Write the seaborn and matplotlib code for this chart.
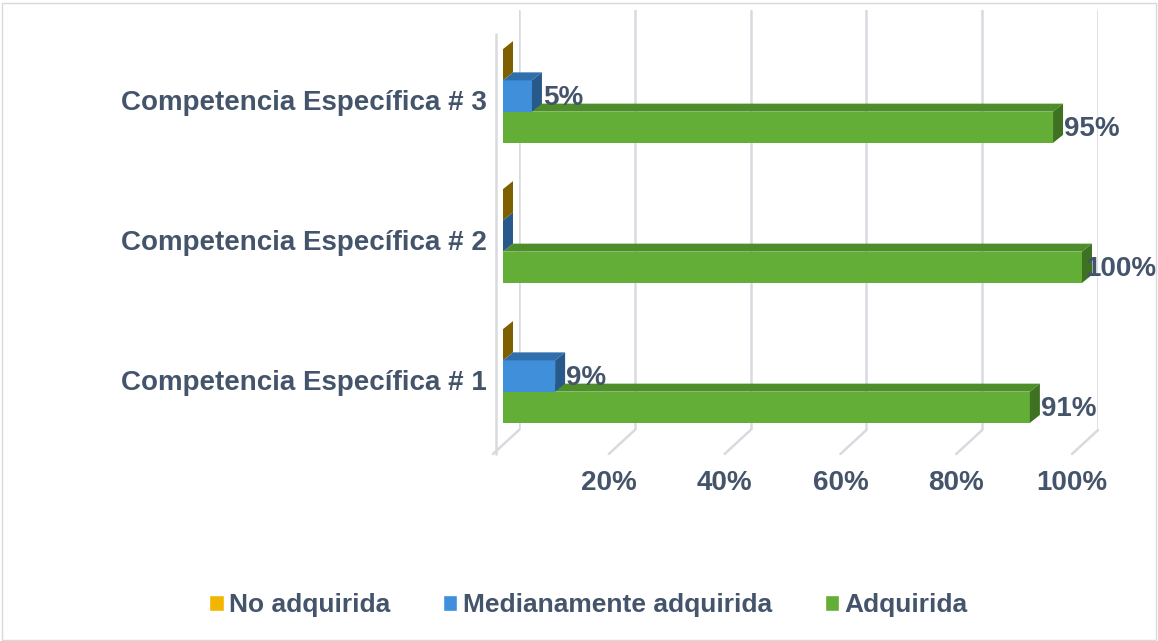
import matplotlib
matplotlib.use("Agg")
import matplotlib.pyplot as plt
import matplotlib.transforms as mtransforms
from matplotlib.lines import Line2D
from matplotlib.patches import Patch, Polygon, Rectangle
import pandas as pd
import seaborn as sns

# === DATA ===
competencias = ["Competencia Específica # 3", "Competencia Específica # 2", "Competencia Específica # 1"]
niveles = ["No adquirida", "Medianamente adquirida", "Adquirida"]
no_adquirida = [0, 0, 0]
medianamente = [5, 0, 9]
adquirida = [95, 100, 91]
ticks = [20, 40, 60, 80, 100]

# front, top, side colour for each level
colores = {
    "No adquirida": ("#F2B600", "#B98A00", "#7F6000"),
    "Medianamente adquirida": ("#3F8FDA", "#2F6FAE", "#27598A"),
    "Adquirida": ("#63AE36", "#4E8E2A", "#3E7222"),
}
TEXT = "#44546A"
GRID = "#D9D9E0"

df = pd.DataFrame({
    "Competencia": competencias * 3,
    "Nivel": [n for n in niveles for _ in competencias],
    "Valor": no_adquirida + medianamente + adquirida,
})

# === FIGURE ===
sns.set_theme(style="white")
plt.rcParams["font.family"] = ["Liberation Sans", "DejaVu Sans"]
plt.rcParams["font.weight"] = "bold"

W, H = 1158, 641
fig = plt.figure(figsize=(W / 100, H / 100), dpi=100)
ax = fig.add_axes([519 / W, 1 - 430 / H, 579 / W, 420 / H])


def shift(dx, dy):
    # pixel offset (x right, y up)
    return mtransforms.ScaledTranslation(dx / 100, dy / 100, fig.dpi_scale_trans)


sns.barplot(data=df, y="Competencia", x="Valor", hue="Nivel", order=competencias,
            hue_order=niveles, palette=[colores[n][0] for n in niveles], width=0.67,
            saturation=1, linewidth=0, legend=False, ax=ax)

ax.set_xlim(0, 100)
ax.set_ylim(2.5, -0.5)
for s in ax.spines.values():
    s.set_visible(False)
ax.set_xticks(ticks)
ax.set_xticklabels([])
ax.set_yticklabels([])
ax.set_xlabel("")
ax.set_ylabel("")
ax.tick_params(length=0)
ax.xaxis.grid(True, color=GRID, lw=1.8)
ax.axvline(0, color=GRID, lw=1.8)

# === 3D LOOK ON THE BARS ===
front_tr = ax.transData + shift(-16, -16)
ddx = 10 / 5.79   # side depth in data units
ddy = 8 / 140

for i, (cont, nivel) in enumerate(zip(ax.containers, niveles)):
    front, top, side = colores[nivel]
    z = 10 - i
    for bar in cont:
        bar.set_transform(front_tr)
        bar.set_clip_on(False)
        bar.set_zorder(z)
        x0, x1 = bar.get_x(), bar.get_x() + bar.get_width()
        yt, yb = bar.get_y(), bar.get_y() + bar.get_height()
        top_face = Polygon([(x0, yt), (x1, yt), (x1 + ddx, yt - ddy), (x0 + ddx, yt - ddy)],
                           closed=True, facecolor=top, lw=0, transform=front_tr,
                           clip_on=False, zorder=z)
        side_face = Polygon([(x1, yt), (x1, yb), (x1 + ddx, yb - ddy), (x1 + ddx, yt - ddy)],
                            closed=True, facecolor=side, lw=0, transform=front_tr,
                            clip_on=False, zorder=z)
        ax.add_patch(top_face)
        ax.add_patch(side_face)
        v = bar.get_width()
        if v > 0:
            # labels that would run past the edge sit over the bar side, as in Excel
            off = 11 if x1 < 98 else 3
            ax.text(x1, (yt + yb) / 2, f"{v:.0f}%", transform=front_tr + shift(off, -2),
                    ha="left", va="center", fontsize=20, fontweight="bold", color=TEXT,
                    clip_on=False, zorder=20)

# === FLOOR AND FRONT WALL ===
fig.canvas.draw()
for t in [0] + ticks:
    px, py = ax.transData.transform((t, 2.5))
    fig.add_artist(Line2D([px, px - 26], [py, py - 24], color=GRID, lw=1.8,
                          transform=mtransforms.IdentityTransform()))
px0, py0 = ax.transData.transform((0, 2.5))
px1, py1 = ax.transData.transform((0, -0.5))
fig.add_artist(Line2D([px0 - 23, px1 - 23], [py0 - 24, py1 - 24], color=GRID, lw=1.8,
                      transform=mtransforms.IdentityTransform()))

# === AXIS TEXT ===
blend = mtransforms.blended_transform_factory(ax.transData, ax.transAxes)
for t in ticks:
    ax.text(t, 0, f"{t}%", transform=blend + shift(-26, -53), ha="center", va="center",
            fontsize=20, fontweight="bold", color=TEXT)
for i, c in enumerate(competencias):
    ax.text(0, i, c, transform=ax.transData + shift(-32, -23), ha="right", va="center",
            fontsize=20, fontweight="bold", color=TEXT)

# === LEGEND ===
handles = [Patch(facecolor=colores[n][0], label=n) for n in niveles]
fig.legend(handles=handles, loc="center", bbox_to_anchor=(0.508, 1 - 605 / H), ncol=3,
           frameon=False, handlelength=0.55, handleheight=0.55, handletextpad=0.2,
           columnspacing=2.0, labelcolor=TEXT, prop={"weight": "bold", "size": 19})

fig.patches.append(Rectangle((0.002, 0.002), 0.996, 0.993, transform=fig.transFigure,
                             fill=False, edgecolor="#D9D9D9", lw=1))

fig.savefig("out.png", dpi=100)
